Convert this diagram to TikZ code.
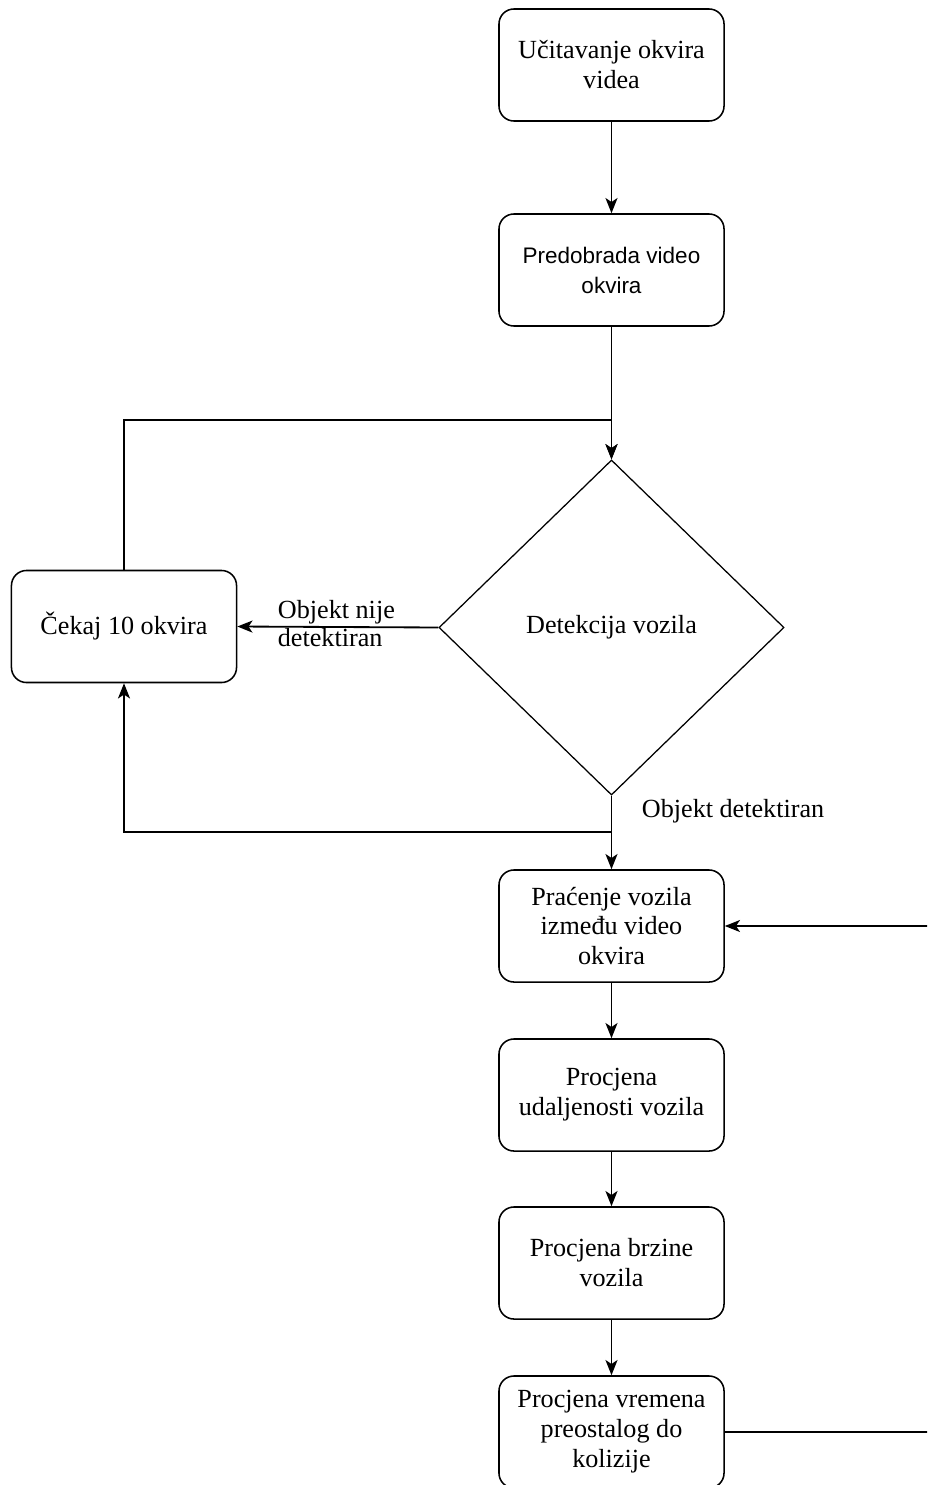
\documentclass[tikz,border=0pt]{standalone}
\usepackage{fontspec}
\setmainfont{Liberation Serif}
\newfontfamily\arialfont{Liberation Sans}
\usetikzlibrary{shapes.geometric,arrows.meta}
\tikzset{
  stepnode/.style = {shape=rectangle, rounded corners=0.375cm,
                     draw, line width=1.1pt, align=center,
                     minimum width=5.625cm, minimum height=2.8cm,
                     font=\fontsize{18.6}{21.3}\selectfont},
  decision/.style = {shape=diamond, draw, line width=0.9pt,
                     minimum width=8.625cm, minimum height=8.375cm,
                     inner sep=0pt, font=\fontsize{18.6}{21.3}\selectfont},
  flow/.style     = {draw, line width=1.3pt,
                     -{Stealth[length=0.38cm,width=0.3cm,inset=0.1cm]}},
  plain/.style    = {draw, line width=1.3pt},
  edgelabel/.style = {align=left, anchor=west, inner sep=0pt,
                     font=\fontsize{18.6}{19.9}\selectfont}
}
\begin{document}
\begin{tikzpicture}[x=0.025cm,y=-0.025cm]
  \clip (0,0) rectangle (927,1485);
  \useasboundingbox (0,0) rectangle (927,1485);

  \node [stepnode] (load) at (611.5,65) {Učitavanje okvira\\videa};
  \node [stepnode, font=\arialfont\fontsize{16}{21.3}\selectfont] (prep) at (611.5,270) {Predobrada video\\okvira};
  \node [decision] (detect) at (611.5,627.5) {Detekcija vozila};
  \node [stepnode] (wait) at (124,626.5) {Čekaj 10 okvira};
  \node [stepnode] (track) at (611.5,926) {Praćenje vozila\\između video\\okvira};
  \node [stepnode] (dist) at (611.5,1095) {Procjena\\udaljenosti vozila};
  \node [stepnode] (speed) at (611.5,1263) {Procjena brzine\\vozila};
  \node [stepnode] (ttc) at (611.5,1432) {Procjena vremena\\preostalog do\\kolizije};

  \coordinate (loopTop) at (611.5,420);
  \coordinate (loopBot) at (611.5,832);
  \coordinate (rightIn) at (930,926);
  \coordinate (rightOut) at (930,1432);

  \draw [flow] (load) -- (prep);
  \draw [flow] (prep) -- (detect.north);
  \draw [flow] (wait.north) |- (loopTop) -- (detect.north);
  \draw [flow] (detect.west) -- (wait.east)
    node [edgelabel] at (277,624) {Objekt nije\\detektiran};
  \draw [flow] (detect.south) -- (track.north)
    node [edgelabel] at (641,811) {Objekt detektiran};
  \draw [flow] (detect.south) -- (loopBot) -| (wait.south);
  \draw [flow] (rightIn) -- (track.east);
  \draw [flow] (track) -- (dist);
  \draw [flow] (dist) -- (speed);
  \draw [flow] (speed) -- (ttc);
  \draw [plain] (ttc.east) -- (rightOut);
\end{tikzpicture}
\end{document}
